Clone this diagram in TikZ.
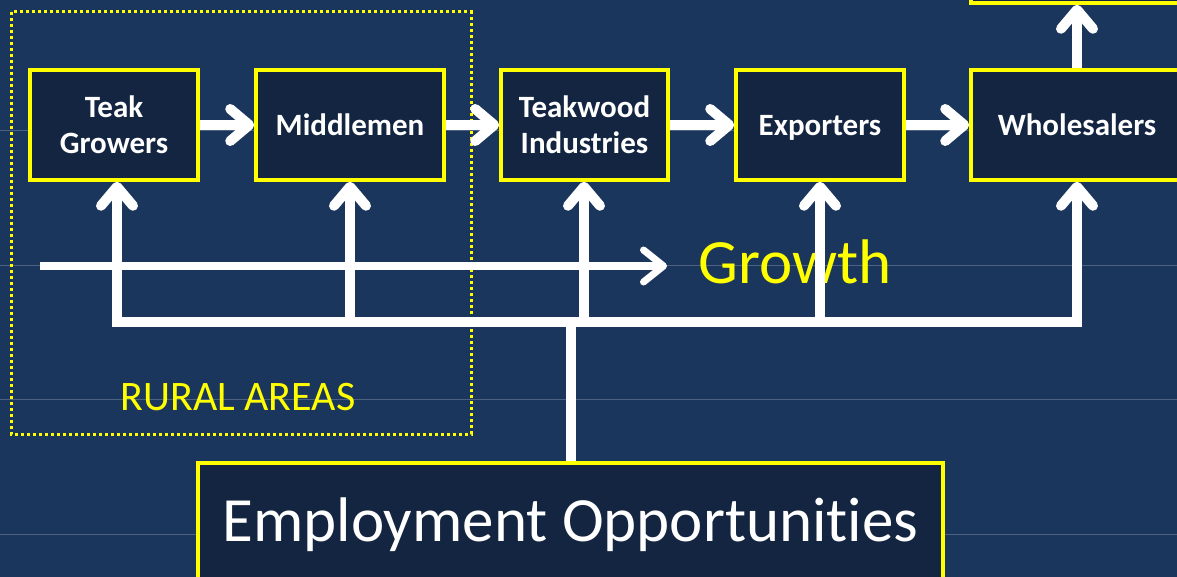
\documentclass[tikz,border=0pt]{standalone}
\usepackage{fontspec}
\setmainfont{Carlito}[Ligatures=NoCommon]
\usetikzlibrary{arrows.meta}
\definecolor{bgblue}{RGB}{27,54,93}
\definecolor{boxblue}{RGB}{19,37,64}
\definecolor{ylw}{RGB}{255,255,0}
\tikzset{
  stage/.style={draw=ylw, line width=3.5pt, fill=boxblue, text=white, font=\bfseries\fontsize{31}{36}\selectfont, align=center, inner sep=0pt},
  oneline/.style={text height=22pt, text depth=0pt},
  flowarr/.style={draw=white, line width=10pt, -{Straight Barb[length=19pt, width=32pt, line cap=round, line join=round]}},
  wline/.style={draw=white, line width=10pt},
  garr/.style={draw=white, line width=7pt, -{Straight Barb[length=20pt, width=32pt, line cap=round, line join=round]}},
  guide/.style={draw=white, opacity=0.22, line width=1pt}
}
\begin{document}
\begin{tikzpicture}[x=1pt,y=-1pt]
\useasboundingbox (0,0) rectangle (1177,577);
\clip (0,0) rectangle (1177,577);
\fill[bgblue] (0,0) rectangle (1177,577);
% faint guide lines
\foreach \yy in {131,265,399,534} \draw[guide] (0,\yy) -- (1177,\yy);
% rural area frame
\draw[ylw, line width=3pt, dash pattern=on 3pt off 3pt] (11,12) rectangle (471,434);
\node[text=ylw, font=\fontsize{42}{46}\selectfont] (rural) at (238,397) {RURAL AREAS};
% stage boxes
\node[stage, minimum width=168pt, minimum height=110pt] (tg) at (114,125) {Teak\\Growers};
\node[stage, oneline, minimum width=188pt, minimum height=110pt] (mm) at (350,125) {Middlemen};
\node[stage, minimum width=167pt, minimum height=110pt] (ti) at (584.5,125) {Teakwood\\Industries};
\node[stage, oneline, minimum width=168pt, minimum height=110pt] (ex) at (820,125) {Exporters};
\node[stage, oneline, minimum width=212pt, minimum height=110pt] (wh) at (1077,125) {Wholesalers};
\node[stage, minimum width=212pt, minimum height=110pt] (top) at (1077,-52) {};
\node[draw=ylw, line width=3.5pt, fill=boxblue, text=white, font=\fontsize{63}{68}\selectfont, minimum width=745pt, minimum height=124pt, inner sep=0pt] (emp) at (570.5,525) {Employment Opportunities};
% flow arrows
\draw[flowarr] (tg) -- (mm);
\draw[flowarr] (mm) -- (ti);
\draw[flowarr] (ti) -- (ex);
\draw[flowarr] (ex) -- (wh);
\draw[flowarr] (wh) -- (top);
% bus
\coordinate (b1) at (117,322);
\coordinate (b2) at (350,322);
\coordinate (b3) at (584,322);
\coordinate (b4) at (820,322);
\coordinate (b5) at (1077,322);
\draw[wline, line cap=rect] (b1) -- (b5);
\draw[wline] (emp.north) -- (emp.north |- b1);
% growth arrow
\coordinate (gs) at (40,266);
\coordinate (ge) at (667,266);
\draw[garr] (gs) -- (ge);
\node[text=ylw, font=\fontsize{63}{68}\selectfont, anchor=west] (growth) at (695,262) {Growth};
% vertical arrows
\draw[flowarr] (b1) -- (b1 |- tg.south);
\draw[flowarr] (b2) -- (b2 |- mm.south);
\draw[flowarr] (b3) -- (b3 |- ti.south);
\draw[flowarr] (b4) -- (b4 |- ex.south);
\draw[flowarr] (b5) -- (b5 |- wh.south);
\end{tikzpicture}
\end{document}
